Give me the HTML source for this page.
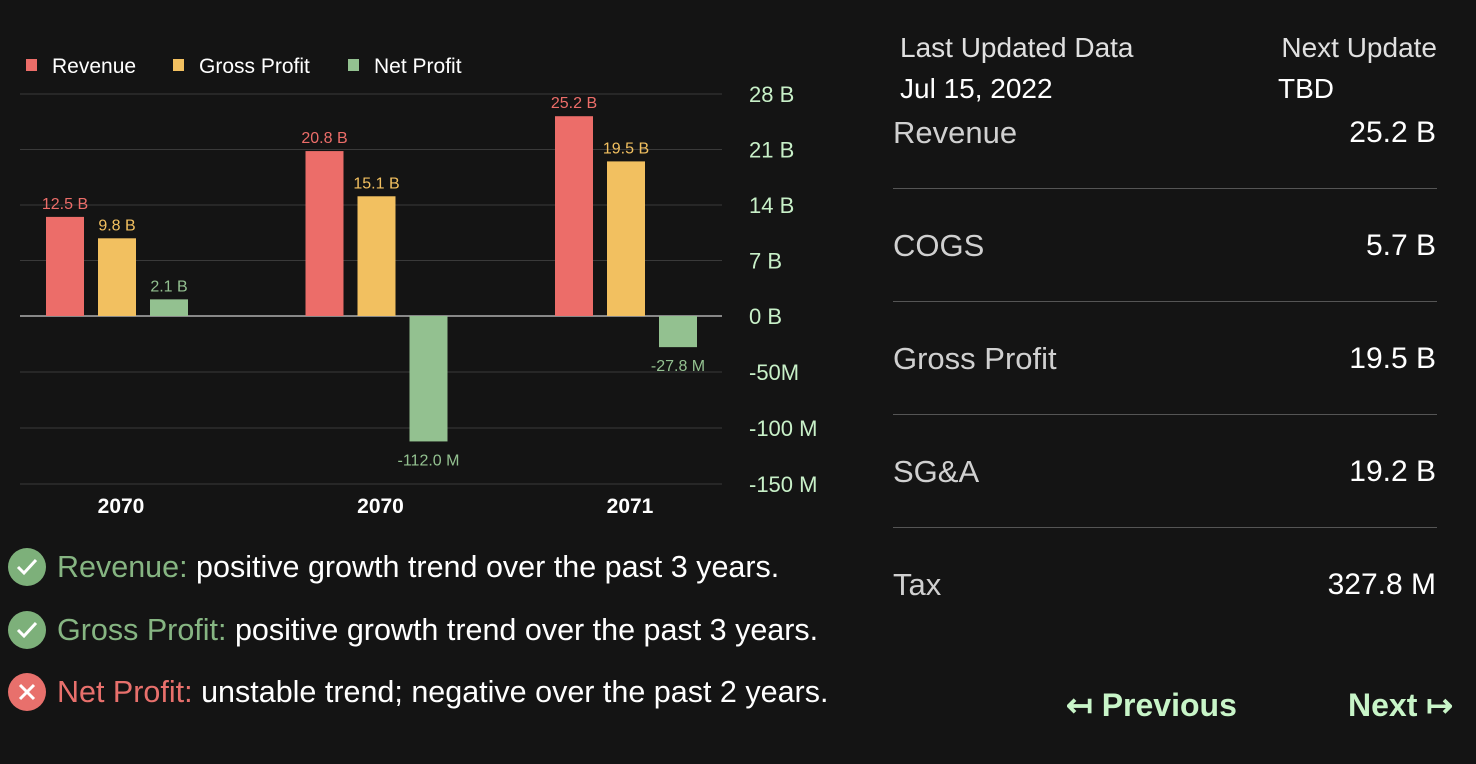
<!DOCTYPE html>
<html><head><meta charset="utf-8"><style>
body{margin:0;width:1476px;height:764px;background:#141414;overflow:hidden;font-family:"Liberation Sans",sans-serif;color:#fff;position:relative}
.abs{position:absolute;white-space:nowrap}
.lbl{color:#d0d0d0;font-size:31px}
.val{color:#fff;font-size:30px;text-align:right;right:40px}
.sep{position:absolute;left:893px;width:544px;height:1px;background:#555}
.note{position:absolute;left:8px;font-size:30.5px;display:flex;align-items:center;white-space:nowrap}
.ic{width:38px;height:38px;border-radius:50%;display:inline-flex;align-items:center;justify-content:center;margin-right:11px}
.nav{position:absolute;top:686px;font-size:32px;font-weight:bold;color:#c8f5c8}
</style></head><body>
<svg width="850" height="530" style="position:absolute;left:0;top:0" id="chart"></svg>
<div class="note" style="top:548px"><span class="ic" style="background:#7db07a"><svg width="22" height="18"><path d="M2 9 L8 15 L20 2" stroke="#fff" stroke-width="3" fill="none"/></svg></span><span style="color:#86b582">Revenue:</span>&nbsp;positive growth trend over the past 3 years.</div>
<div class="note" style="top:611px"><span class="ic" style="background:#7db07a"><svg width="22" height="18"><path d="M2 9 L8 15 L20 2" stroke="#fff" stroke-width="3" fill="none"/></svg></span><span style="color:#86b582">Gross Profit:</span>&nbsp;positive growth trend over the past 3 years.</div>
<div class="note" style="top:673px"><span class="ic" style="background:#e8706c"><svg width="20" height="20"><path d="M3 3 L17 17 M17 3 L3 17" stroke="#fff" stroke-width="3"/></svg></span><span style="color:#e8706c">Net Profit:</span>&nbsp;unstable trend; negative over the past 2 years.</div>

<div class="abs" style="left:900px;top:32px;font-size:28px;color:#e0e0e0">Last Updated Data</div>
<div class="abs" style="left:900px;top:73px;font-size:28px">Jul 15, 2022</div>
<div class="abs" style="right:39px;top:32px;font-size:28px;color:#e0e0e0">Next Update</div>
<div class="abs" style="left:1278px;top:73px;font-size:28px">TBD</div>

<div class="abs lbl" style="left:893px;top:115px">Revenue</div><div class="abs val" style="top:116px">25.2 B</div>
<div class="sep" style="top:188px"></div>
<div class="abs lbl" style="left:893px;top:228px">COGS</div><div class="abs val" style="top:229px">5.7 B</div>
<div class="sep" style="top:301px"></div>
<div class="abs lbl" style="left:893px;top:341px">Gross Profit</div><div class="abs val" style="top:342px">19.5 B</div>
<div class="sep" style="top:414px"></div>
<div class="abs lbl" style="left:893px;top:454px">SG&amp;A</div><div class="abs val" style="top:455px">19.2 B</div>
<div class="sep" style="top:527px"></div>
<div class="abs lbl" style="left:893px;top:567px">Tax</div><div class="abs val" style="top:568px">327.8 M</div>

<div class="nav" style="left:1066px">↤ Previous</div>
<div class="nav" style="left:1348px">Next ↦</div>

<script>
const categories=["2070","2070","2071"];
const revenue=[12.5,20.8,25.2];
const grossProfit=[9.8,15.1,19.5];
const netProfit=[2.1,-112.0,-27.8]; // positive in B, negative in M
const netLabels=["2.1 B","-112.0 M","-27.8 M"];
const posTicks=[28,21,14,7,0];
const negTicks=[-50,-100,-150];
const NS="http://www.w3.org/2000/svg";
const svg=document.getElementById('chart');
const zeroY=316;
function yPos(v){return zeroY-v*(222/28);}
function yNeg(m){return zeroY-m*(168/150);}
function groupX(i){return 46+i*254.5+(i===1?5:0);}
function add(tag,attrs,text){const e=document.createElementNS(NS,tag);for(const k in attrs)e.setAttribute(k,attrs[k]);if(text!==undefined)e.textContent=text;svg.appendChild(e);return e;}
const F='"Liberation Sans Narrow","Liberation Sans",sans-serif';
posTicks.forEach(t=>{const y=yPos(t);
 const l=add('line',{x1:20,x2:722,y1:y,y2:y,stroke:t===0?'#888':'#3a3a3a','stroke-width':t===0?2:1});
 
 const tx=add('text',{x:749,y:y+8,fill:'#c8f0c8','font-size':22,'font-family':F},t+' B');
 });
negTicks.forEach(t=>{const y=yNeg(t);
 const l=add('line',{x1:20,x2:722,y1:y,y2:y,stroke:'#3a3a3a'});
 
 const tx=add('text',{x:749,y:y+8,fill:'#c8f0c8','font-size':22,'font-family':F},t===-50?'-50M':t+' M');
 });
const series=[{d:revenue,c:'#ec6d69',lc:'#ec6d69',n:'revenue'},{d:grossProfit,c:'#f2c060',lc:'#f2c060',n:'gross-profit'},{d:netProfit,c:'#93c190',lc:'#93c190',n:'net-profit'}];
categories.forEach((cat,i)=>{
 const gx=groupX(i);
 series.forEach((s,j)=>{
  const v=s.d[i];const x=gx+j*52;let y,h,ly,lab;
  if(v>=0){y=yPos(v);h=zeroY-y;ly=y-8;lab=s.n==='net-profit'?netLabels[i]:v.toFixed(1)+' B';}
  else{y=zeroY;h=yNeg(v)-zeroY;ly=y+h+24;lab=netLabels[i];}
  const r=add('rect',{x:x,y:y,width:38,height:h,fill:s.c});
  
  const t=add('text',{x:x+19,y:ly,fill:s.lc,'font-size':16,'text-anchor':'middle','font-family':F},lab);
  
 });
 const xl=add('text',{x:gx+75,y:513,fill:'#fff','font-size':21,'font-weight':'bold','text-anchor':'middle','font-family':F},cat);
 
});
[['Revenue','#ec6d69',26],['Gross Profit','#f2c060',173],['Net Profit','#93c190',348]].forEach(([n,c,x])=>{
 const r=add('rect',{x:x,y:59,width:11,height:12,fill:c});
 
 const t=add('text',{x:x+26,y:73,fill:'#fff','font-size':21,'font-family':F},n);
 
});
</script>
</body></html>
